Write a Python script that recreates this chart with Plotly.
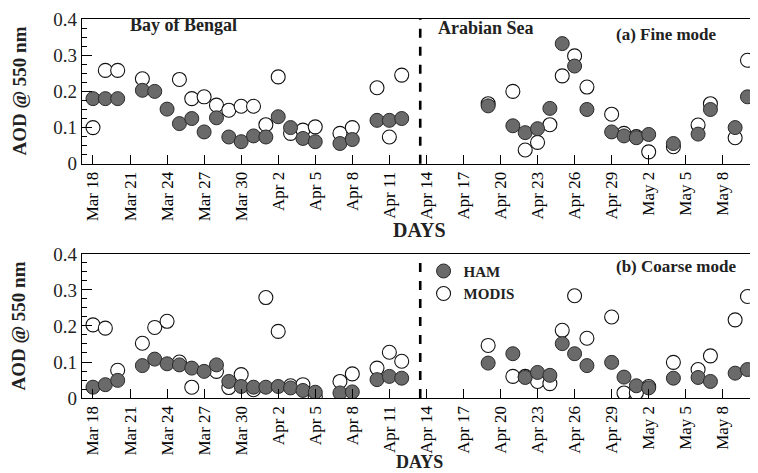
import plotly.graph_objects as go

# ---------------- data ----------------
bob_dates = ["2006-03-18", "2006-03-19", "2006-03-20", "2006-03-22", "2006-03-23", "2006-03-24",
             "2006-03-25", "2006-03-26", "2006-03-27", "2006-03-28", "2006-03-29", "2006-03-30",
             "2006-03-31", "2006-04-01", "2006-04-02", "2006-04-03", "2006-04-04", "2006-04-05",
             "2006-04-07", "2006-04-08", "2006-04-10", "2006-04-11", "2006-04-12"]
as_dates = ["2006-04-19", "2006-04-21", "2006-04-22", "2006-04-23", "2006-04-24", "2006-04-25",
            "2006-04-26", "2006-04-27", "2006-04-29", "2006-04-30", "2006-05-01", "2006-05-02",
            "2006-05-04", "2006-05-06", "2006-05-07", "2006-05-09", "2006-05-10"]

fine_ham_bob = [0.18, 0.18, 0.18, 0.203, 0.20, 0.151, 0.111, 0.125, 0.088, 0.127, 0.074, 0.061,
                0.077, 0.074, 0.13, 0.10, 0.07, 0.061, 0.056, 0.067, 0.12, 0.12, 0.125]
fine_modis_bob = [0.10, 0.258, 0.258, 0.235, None, None, 0.233, 0.18, 0.185, 0.162, 0.148, 0.159,
                  0.159, 0.108, 0.24, 0.084, 0.093, 0.102, 0.084, 0.10, 0.21, 0.074, 0.245]
fine_ham_as = [0.16, 0.105, 0.086, 0.097, 0.153, 0.332, 0.27, 0.15, 0.088, 0.077, 0.072, 0.081,
               0.056, 0.082, 0.15, 0.10, 0.185]
fine_modis_as = [0.166, 0.20, 0.038, 0.059, 0.108, 0.243, 0.298, 0.212, 0.137, 0.084, 0.075, 0.033,
                 0.047, 0.107, 0.166, 0.072, 0.286]

coarse_ham_bob = [0.03, 0.037, 0.049, 0.09, 0.108, 0.095, 0.092, 0.083, 0.074, 0.092, 0.046, 0.032,
                  0.03, 0.03, 0.032, 0.028, 0.021, 0.016, 0.014, 0.017, 0.051, 0.06, 0.055]
coarse_modis_bob = [0.203, 0.194, 0.077, 0.152, 0.196, 0.213, 0.10, 0.03, None, 0.074, 0.029, 0.065,
                    0.023, 0.279, 0.185, 0.034, 0.037, 0.005, 0.046, 0.067, 0.083, 0.127, 0.102]
coarse_ham_as = [0.097, 0.123, 0.057, 0.071, 0.063, 0.151, 0.123, 0.09, 0.099, 0.058, 0.034, 0.028,
                 0.055, 0.057, 0.046, 0.069, 0.079]
coarse_modis_as = [0.146, 0.06, 0.06, 0.046, 0.04, 0.188, 0.284, 0.166, 0.225, 0.014, 0.014, 0.032,
                   0.099, 0.079, 0.117, 0.217, 0.282]

divider_date = "2006-04-13 12:00"
x_range = ["2006-03-17 02:40", "2006-05-10 18:30"]

# ---------------- styles ----------------
SERIF = "Liberation Serif, Times New Roman, serif"
ham_marker = dict(symbol="circle", size=14, color="#6a6a6a", line=dict(color="#2a2a2a", width=1))
modis_marker = dict(symbol="circle", size=14, color="white", line=dict(color="#111111", width=1.1))

fig = go.Figure()

def add_pair(dates, ham, modis, xa, ya):
    fig.add_trace(go.Scatter(x=dates, y=modis, mode="markers", marker=modis_marker,
                             name="MODIS", xaxis=xa, yaxis=ya, showlegend=False))
    fig.add_trace(go.Scatter(x=dates, y=ham, mode="markers", marker=ham_marker,
                             name="HAM", xaxis=xa, yaxis=ya, showlegend=False))

add_pair(bob_dates, fine_ham_bob, fine_modis_bob, "x", "y")
add_pair(as_dates, fine_ham_as, fine_modis_as, "x", "y")
add_pair(bob_dates, coarse_ham_bob, coarse_modis_bob, "x2", "y2")
add_pair(as_dates, coarse_ham_as, coarse_modis_as, "x2", "y2")

# legend entries
fig.add_trace(go.Scatter(x=[None], y=[None], mode="markers", marker=ham_marker, name="<b>HAM</b>",
                         xaxis="x2", yaxis="y2", showlegend=True))
fig.add_trace(go.Scatter(x=[None], y=[None], mode="markers", marker=modis_marker, name="<b>MODIS</b>",
                         xaxis="x2", yaxis="y2", showlegend=True))

xcommon = dict(type="date", range=x_range, tick0="2006-03-18", dtick=3 * 86400000,
               tickformat="%b %-d", tickangle=-90, ticks="inside", ticklen=9, tickwidth=1.3,
               tickcolor="black", showline=True, linecolor="black", linewidth=1.3, mirror=True,
               showgrid=False, zeroline=False,
               tickfont=dict(family=SERIF, size=17, color="black"))
ycommon = dict(range=[0, 0.4], tickvals=[0, 0.1, 0.2, 0.3, 0.4],
               ticktext=["0", "0.1", "0.2", "0.3", "0.4"], ticks="inside", ticklen=10,
               tickwidth=1.3, tickcolor="black",
               minor=dict(dtick=0.025, ticks="inside", ticklen=5, tickcolor="black", tickwidth=1),
               showline=True, linecolor="black", linewidth=1.3, mirror=False,
               showgrid=False, zeroline=False,
               tickfont=dict(family=SERIF, size=19, color="#222"))

# page body has an 8px margin, so the figure is sized to the remaining window area
fig.update_layout(
    width=750, height=465,
    margin=dict(l=74, r=1, t=8, b=75),
    paper_bgcolor="white", plot_bgcolor="white",
    xaxis=dict(xcommon, anchor="y"),
    yaxis=dict(ycommon, domain=[0.618, 1.0], anchor="x"),
    xaxis2=dict(xcommon, anchor="y2"),
    yaxis2=dict(ycommon, domain=[0.0, 0.38], anchor="x2"),
    legend=dict(x=0.506, y=0.378, xanchor="left", yanchor="top", bgcolor="rgba(0,0,0,0)",
                font=dict(family=SERIF, size=15, color="#222"), tracegroupgap=0,
                itemwidth=30),
    showlegend=True,
)

# dashed dividers
for xr, yr in (("x", "y domain"), ("x2", "y2 domain")):
    fig.add_shape(type="line", xref=xr, yref=yr, x0=divider_date, x1=divider_date, y0=0, y1=1,
                  line=dict(color="black", width=2.6, dash="dash"))

def ann(text, x, y, size, xanchor="left", angle=0):
    fig.add_annotation(text=text, xref="paper", yref="paper", x=x, y=y, showarrow=False,
                       xanchor=xanchor, yanchor="middle", textangle=angle,
                       font=dict(family=SERIF, size=size, color="#222"))

ann("<b>Bay of Bengal</b>", 0.068, 0.984, 18)
ann("<b>Arabian Sea</b>", 0.524, 0.976, 18)
ann("<b>(a) Fine mode</b>", 0.788, 0.96, 17)
ann("<b>(b) Coarse mode</b>", 0.788, 0.346, 17)
ann("<b>DAYS</b>", 0.5, 0.443, 20, xanchor="center")
ann("<b>DAYS</b>", 0.5, -0.168, 18, xanchor="center")
ann("<b>AOD @ 550 nm</b>", -0.094, 0.81, 19, xanchor="center", angle=-90)
ann("<b>AOD @ 550 nm</b>", -0.094, 0.19, 19, xanchor="center", angle=-90)

fig.write_html("out.html")
